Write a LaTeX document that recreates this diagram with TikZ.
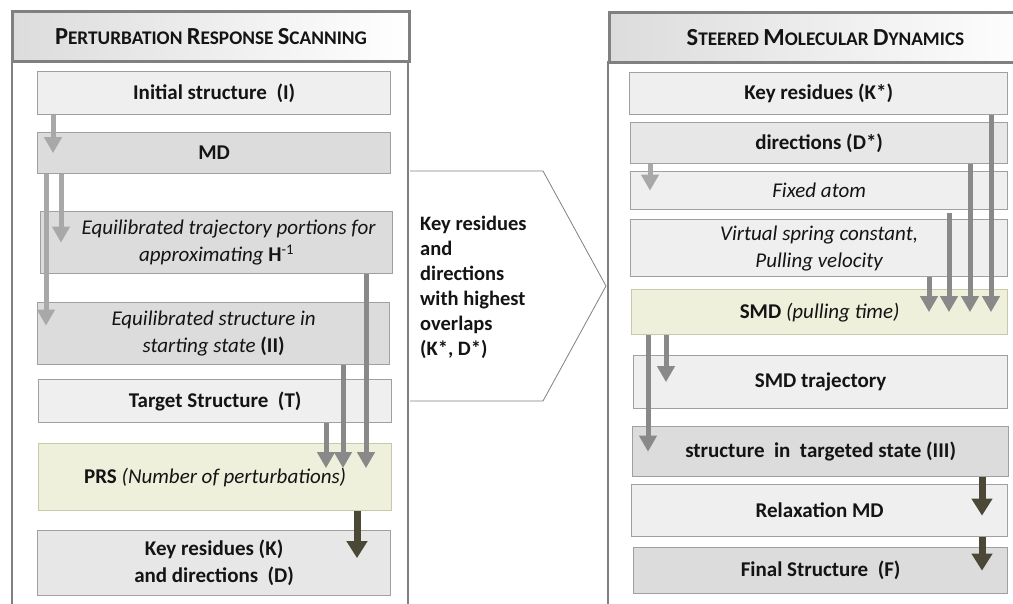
\documentclass[tikz,border=0pt]{standalone}
\usepackage{fontspec}
\setmainfont{Carlito}
\usetikzlibrary{arrows.meta,calc}

\definecolor{panelline}{HTML}{808080}
\definecolor{boxline}{HTML}{A0A0A0}
\definecolor{boxlight}{HTML}{EFEFEF}
\definecolor{boxmid}{HTML}{E7E7E7}
\definecolor{boxdark}{HTML}{DCDCDC}
\definecolor{boxgreen}{HTML}{EEF0DC}
\definecolor{greenline}{HTML}{C8C8AA}
\definecolor{arrlight}{HTML}{A8A8A8}
\definecolor{arrmid}{HTML}{898989}
\definecolor{arrdark}{HTML}{4B4838}
\definecolor{ink}{HTML}{141414}

% fake small capitals for the panel titles
\newcommand{\capword}[2]{{\fontsize{24.5}{28}\selectfont #1}#2}

\tikzset{
  hdr/.style={draw=panelline, line width=3pt, left color=boxdark, right color=white,
    anchor=north west, inner sep=0pt, font=\bfseries\fontsize{19.3}{22}\selectfont, text=ink},
  panelside/.style={draw=panelline, line width=2pt},
  box/.style={draw=boxline, line width=1.3pt, anchor=north west, inner sep=0pt,
    align=center, text=ink, font=\fontsize{21}{27}\selectfont},
  lbox/.style={box, fill=boxlight},
  mbox/.style={box, fill=boxmid},
  dbox/.style={box, fill=boxdark},
  gbox/.style={box, fill=boxgreen, draw=greenline},
  lt/.style={draw=arrlight, line width=5pt, -{Triangle[width=17pt,length=16pt]}},
  md/.style={draw=arrmid, line width=5pt, -{Triangle[width=17pt,length=16pt]}},
  dk/.style={draw=arrdark, line width=7pt, -{Triangle[width=20pt,length=17pt]}},
}

\begin{document}
\begin{tikzpicture}[x=1pt,y=-1pt]
\useasboundingbox (0,0) rectangle (1013,603);
\clip (0,0) rectangle (1013,603);

% ---------- left panel: perturbation response scanning ----------
\draw[panelside] (12,60) -- (12,606);
\draw[panelside] (408,60) -- (408,606);
\node[hdr, minimum width=397, minimum height=50] (lhdr) at (11,10)
  {\capword{P}{ERTURBATION} \capword{R}{ESPONSE} \capword{S}{CANNING}};

\node[lbox, minimum width=353, minimum height=43] (init) at (37,71)
  {\bfseries Initial structure~ (I)};
\node[dbox, minimum width=353, minimum height=41] (md) at (37,132)
  {\bfseries MD};
\node[dbox, minimum width=352, minimum height=62] (eqt) at (40,211)
  {\itshape \hspace*{24pt}Equilibrated trajectory portions for\\\itshape approximating \textbf{\upshape H}\textsuperscript{\upshape -1}};
\node[dbox, minimum width=352, minimum height=62] (eqs) at (37,302)
  {\itshape Equilibrated structure in\\\itshape starting state \textbf{\upshape (II)}};
\node[lbox, minimum width=353, minimum height=43] (tgt) at (38,379)
  {\bfseries Target Structure~ (T)};
\node[gbox, minimum width=353, minimum height=67] (prs) at (38,443)
  {\textbf{PRS} \textit{(Number of perturbations)}};
\node[mbox, minimum width=353, minimum height=65] (kd) at (37,530)
  {\bfseries Key residues (K)\\\bfseries and directions~ (D)};

% ---------- hand-over between the two stages ----------
\draw[draw=panelline, line width=0.8pt, fill=white]
  (410,171) -- (543,171) -- (606,286) -- (543,401) -- (410,401);
\node[anchor=west, align=left, inner sep=0pt, text=ink,
      font=\bfseries\fontsize{20.5}{25}\selectfont] (hand) at (420,287)
  {Key residues\\and\\directions\\with highest\\overlaps\\(K*, D*)};

% ---------- right panel: steered molecular dynamics ----------
\draw[panelside] (608,61) -- (608,606);
\node[hdr, minimum width=432, minimum height=50] (rhdr) at (608,11)
  {\capword{S}{TEERED} \capword{M}{OLECULAR} \capword{D}{YNAMICS}};

\node[lbox, minimum width=378, minimum height=42] (kr) at (629,72)
  {\bfseries Key residues (K*)};
\node[mbox, minimum width=377, minimum height=41] (dir) at (630,122)
  {\bfseries directions (D*)};
\node[lbox, minimum width=377, minimum height=38] (fix) at (630,171)
  {\itshape Fixed atom};
\node[lbox, minimum width=377, minimum height=57] (vsc) at (630,219)
  {\itshape Virtual spring constant,\\\itshape Pulling velocity};
\node[gbox, minimum width=376, minimum height=45] (smd) at (631,289)
  {\textbf{SMD} \textit{(pulling time)}};
\node[lbox, minimum width=374, minimum height=53] (traj) at (633,355)
  {\bfseries SMD trajectory};
\node[dbox, minimum width=376, minimum height=50] (targ) at (632,426)
  {\bfseries structure~ in~ targeted state (III)};
\node[lbox, minimum width=376, minimum height=52] (relax) at (631,484)
  {\bfseries Relaxation MD};
\node[dbox, minimum width=374, minimum height=46] (fin) at (633,547)
  {\bfseries Final Structure~ (F)};

% ---------- connectors, left ----------
\draw[lt] (init.south -| 53,0) -- (md.center -| 53,0);
\draw[lt] (md.south -| 61,0) -- (eqt.center -| 61,0);
\draw[lt] (md.south -| 46,0) -- ($(eqs.center -| 46,0)+(0,-8)$);
\draw[md] (eqt.south -| 366,0) -- ($(prs.center -| 366,0)+(0,-9)$);
\draw[md] (eqs.south -| 343,0) -- ($(prs.center -| 343,0)+(0,-9)$);
\draw[md] (tgt.south -| 326,0) -- ($(prs.center -| 326,0)+(0,-9)$);
\draw[dk] (prs.south -| 357,0) -- ($(kd.center -| 357,0)+(0,-5)$);

% ---------- connectors, right ----------
\draw[lt] (dir.south -| 650,0) -- (fix.center -| 650,0);
\draw[md] (kr.south -| 991,0) -- (smd.center -| 991,0);
\draw[md] (dir.south -| 970,0) -- (smd.center -| 970,0);
\draw[md] ($(fix.south -| 949,0)+(0,3)$) -- (smd.center -| 949,0);
\draw[md] (vsc.south -| 929,0) -- (smd.center -| 929,0);
\draw[md] (smd.south -| 666,0) -- (traj.center -| 666,0);
\draw[md] (smd.south -| 648,0) -- (targ.center -| 648,0);
\draw[dk] (targ.south -| 982,0) -- ($(relax.center -| 982,0)+(0,5)$);
\draw[dk] (relax.south -| 982,0) -- (fin.center -| 982,0);
\end{tikzpicture}
\end{document}
